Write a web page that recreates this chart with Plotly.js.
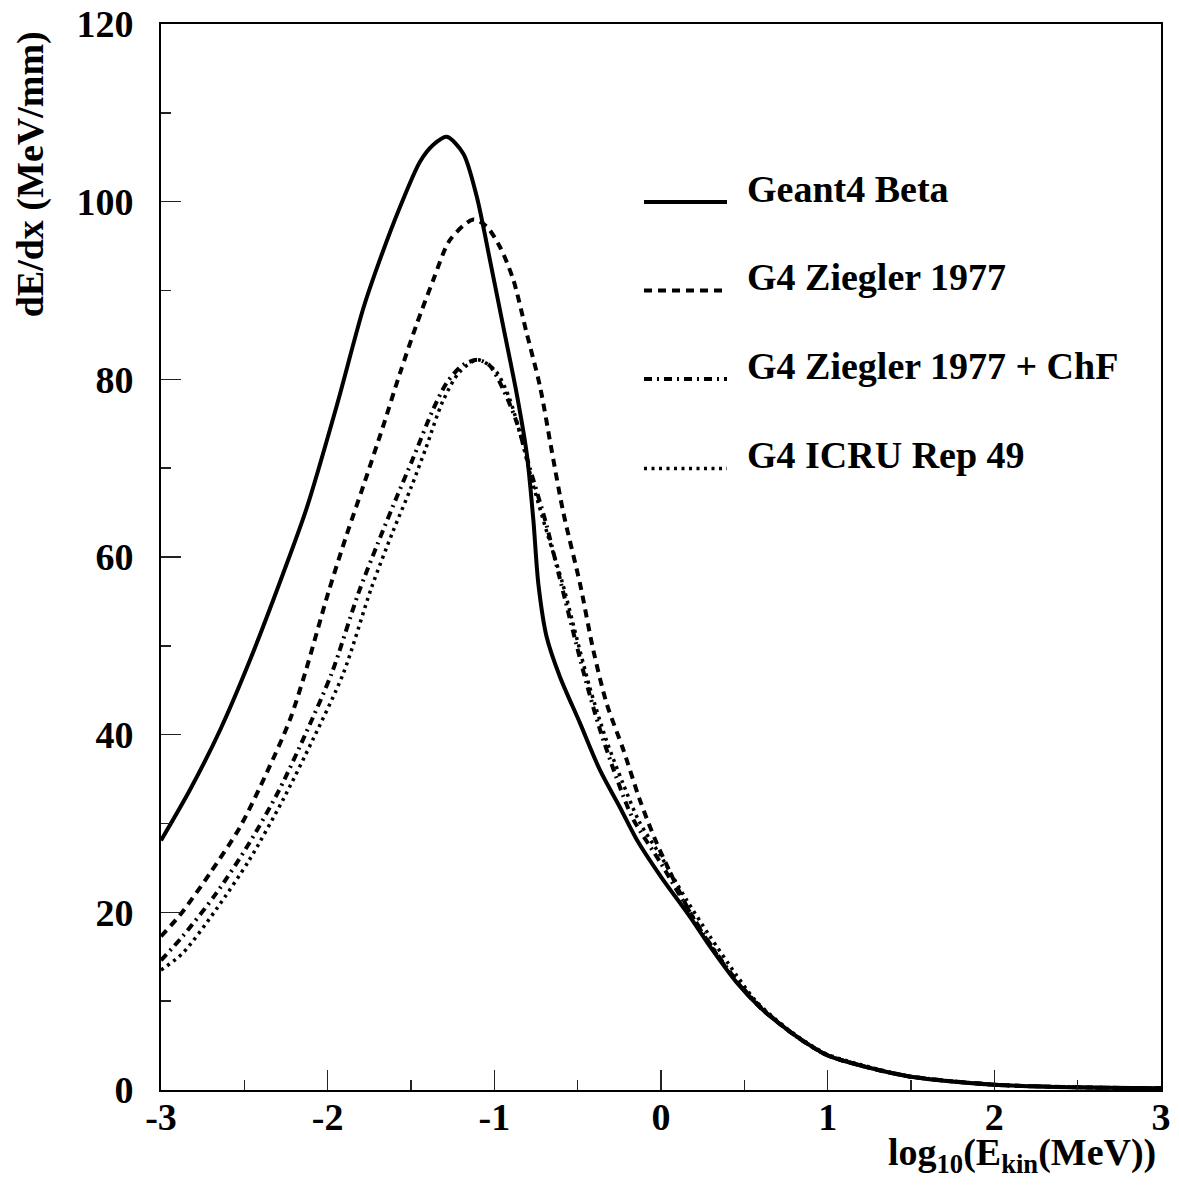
<!DOCTYPE html>
<html>
<head>
<meta charset="utf-8">
<script src="https://cdn.plot.ly/plotly-3.0.1.min.js"></script>
<style>html,body{margin:0;padding:0;background:#fff;}#plot{width:1179px;height:1188px;}</style>
</head>
<body>
<div id="plot"></div>
<script>
// Series: log10(Ekin/MeV) vs dE/dx (MeV/mm)
const seriesNames = ["Geant4 Beta", "G4 Ziegler 1977", "G4 Ziegler 1977 + ChF", "G4 ICRU Rep 49"];

const xBeta = [-3.0, -2.826, -2.646, -2.466, -2.266, -2.126, -1.946, -1.786, -1.686, -1.566, -1.446, -1.366, -1.286, -1.186, -1.106, -1.026, -0.946, -0.866, -0.806, -0.766, -0.736, -0.686, -0.606, -0.486, -0.366, -0.246, -0.146, 0.0, 0.174, 0.3, 0.45, 0.6, 0.75, 0.87, 1.0, 1.25, 1.5, 2.0, 2.5, 3.0];
const yBeta = [28.1, 33.8, 40.5, 48.4, 58.2, 65.5, 77.0, 88.0, 93.5, 99.4, 104.5, 106.4, 107.3, 105.4, 100.6, 93.4, 85.9, 78.4, 71.7, 64.2, 57.0, 51.0, 46.5, 41.3, 36.0, 31.8, 28.2, 24.0, 19.5, 16.0, 12.2, 9.2, 6.9, 5.3, 3.9, 2.5, 1.5, 0.6, 0.3, 0.19];

const xZiegler = [-3.0, -2.886, -2.706, -2.526, -2.366, -2.226, -2.136, -1.996, -1.886, -1.786, -1.666, -1.566, -1.466, -1.366, -1.266, -1.126, -1.046, -0.966, -0.886, -0.806, -0.726, -0.656, -0.586, -0.486, -0.406, -0.326, -0.226, -0.126, -0.026, 0.174, 0.3, 0.45, 0.6, 0.75, 0.87, 1.0, 1.25, 1.5, 2.0, 2.5, 3.0];
const yZiegler = [17.3, 19.7, 24.4, 29.6, 35.7, 41.7, 46.9, 56.0, 62.5, 68.0, 74.8, 80.7, 86.2, 91.2, 95.7, 98.0, 97.2, 94.9, 91.2, 85.2, 79.2, 72.0, 65.0, 57.0, 49.5, 43.5, 38.3, 32.6, 27.8, 20.0, 16.2, 12.3, 9.2, 6.9, 5.3, 3.9, 2.5, 1.5, 0.6, 0.3, 0.19];

const xZieglerChF = [-3.0, -2.87, -2.67, -2.47, -2.29, -2.13, -1.976, -1.816, -1.70, -1.58, -1.49, -1.37, -1.286, -1.19, -1.10, -1.03, -0.95, -0.87, -0.79, -0.69, -0.61, -0.53, -0.45, -0.37, -0.27, -0.17, 0.0, 0.174, 0.3, 0.45, 0.6, 0.75, 0.87, 1.0, 1.25, 1.5, 2.0, 2.5, 3.0];
const yZieglerChF = [14.6, 17.3, 22.1, 27.8, 33.8, 40.2, 46.9, 55.9, 61.5, 67.0, 71.0, 76.5, 79.6, 81.6, 82.2, 81.6, 79.0, 75.4, 70.2, 63.8, 57.8, 51.8, 46.0, 40.8, 35.3, 30.6, 25.5, 20.0, 16.3, 12.4, 9.3, 6.9, 5.3, 3.9, 2.5, 1.5, 0.6, 0.3, 0.19];

const xICRU = [-3.0, -2.87, -2.67, -2.47, -2.27, -2.09, -1.906, -1.738, -1.61, -1.50, -1.41, -1.31, -1.21, -1.10, -0.99, -0.91, -0.85, -0.77, -0.68, -0.59, -0.51, -0.43, -0.33, -0.23, -0.13, 0.0, 0.15, 0.29, 0.45, 0.57, 0.75, 0.87, 1.0, 1.25, 1.5, 2.0, 2.5, 3.0];
const yICRU = [13.5, 15.4, 20.3, 25.9, 32.6, 39.4, 46.9, 56.5, 62.8, 67.8, 72.3, 77.5, 80.8, 82.2, 80.9, 77.9, 74.2, 68.3, 62.5, 57.0, 51.2, 45.5, 39.5, 34.6, 30.2, 26.3, 21.5, 17.4, 13.0, 10.0, 7.0, 5.4, 4.0, 2.6, 1.5, 0.6, 0.3, 0.19];

const xTickVals = [-3, -2, -1, 0, 1, 2, 3];
const xTickText = ["-3", "-2", "-1", "0", "1", "2", "3"];
const yTickVals = [0, 20, 40, 60, 80, 100, 120];
const yTickText = ["0", "20", "40", "60", "80", "100", "120"];

const FONT = "Liberation Serif, Times New Roman, serif";
const dashes = ["solid", "8px,6px", "8px,5px,2px,5px", "3px,4.5px"];
const widths = [4, 4, 4, 3.5];

const xs = [xBeta, xZiegler, xZieglerChF, xICRU];
const ys = [yBeta, yZiegler, yZieglerChF, yICRU];

const traces = seriesNames.map((n, i) => ({
  type: "scatter", mode: "lines", name: n,
  x: xs[i], y: ys[i],
  line: {color: "#000", width: widths[i], dash: dashes[i], shape: "spline", smoothing: 0.8},
  showlegend: false, hoverinfo: "skip"
}));

// manual legend
const legLineY = [0.833, 0.750, 0.667, 0.583];
const legTextY = [0.845, 0.763, 0.679, 0.596];
const shapes = [];
const annotations = [];
seriesNames.forEach((n, i) => {
  shapes.push({type: "line", xref: "paper", yref: "paper", x0: 0.483, x1: 0.566, y0: legLineY[i], y1: legLineY[i],
    line: {color: "#000", width: widths[i], dash: dashes[i]}});
  annotations.push({xref: "paper", yref: "paper", x: 0.584, y: legTextY[i], xanchor: "left", yanchor: "middle",
    text: n, showarrow: false, font: {family: FONT, size: 38, color: "#000", weight: "bold"}});
});
annotations.push({xref: "paper", yref: "paper", x: 0.997, y: -0.061, xanchor: "right", yanchor: "middle",
  text: "log<sub>10</sub>(E<sub>kin</sub>(MeV))", showarrow: false, font: {family: FONT, size: 38, color: "#000", weight: "bold"}});
annotations.push({xref: "paper", yref: "paper", x: -0.131, y: 0.859, xanchor: "center", yanchor: "middle", textangle: -90,
  text: "dE/dx (MeV/mm)", showarrow: false, font: {family: FONT, size: 38, color: "#000", weight: "bold"}});

const tickFont = {family: FONT, size: 38, color: "#000", weight: "bold"};

const layout = {
  width: 1179, height: 1188,
  margin: {l: 161, r: 18, t: 24, b: 98, pad: 0},
  paper_bgcolor: "#fff", plot_bgcolor: "#fff",
  showlegend: false,
  xaxis: {
    range: [-3, 3], tickmode: "array", tickvals: xTickVals, ticktext: xTickText,
    ticks: "inside", ticklen: 20, tickwidth: 1.5, tickcolor: "#222",
    minor: {dtick: 0.5, ticks: "inside", ticklen: 10, tickwidth: 1.5, tickcolor: "#222"},
    showline: true, linecolor: "#000", linewidth: 2, mirror: true,
    showgrid: false, zeroline: false, tickfont: tickFont, ticklabelstandoff: -8
  },
  yaxis: {
    range: [0, 120], tickmode: "array", tickvals: yTickVals, ticktext: yTickText,
    ticks: "inside", ticklen: 20, tickwidth: 1.5, tickcolor: "#222",
    minor: {dtick: 10, ticks: "inside", ticklen: 10, tickwidth: 1.5, tickcolor: "#222"},
    showline: true, linecolor: "#000", linewidth: 2, mirror: true,
    showgrid: false, zeroline: false, tickfont: tickFont, ticklabelstandoff: 18
  },
  shapes: shapes,
  annotations: annotations
};

Plotly.newPlot("plot", traces, layout, {staticPlot: true, displayModeBar: false});
</script>
</body>
</html>
